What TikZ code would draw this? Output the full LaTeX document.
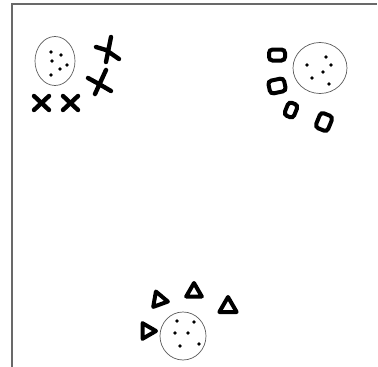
\documentclass[tikz,border=0pt]{standalone}
\usetikzlibrary{shapes.geometric, positioning}
\definecolor{framegray}{RGB}{105,105,105}
\definecolor{ringgray}{RGB}{90,90,90}
\tikzset{
  frameline/.style = {draw=framegray, line width=1.6pt},
  cluster/.style   = {ellipse, draw=ringgray, line width=0.7pt, inner sep=0pt},
  pen/.style       = {line width=4.4pt, line cap=round, line join=round},
  seed/.style      = {circle, fill=black, inner sep=0pt, minimum size=3.9pt},
  blob/.style      = {rectangle, rounded corners=3.5pt, draw, line width=4pt, inner sep=0pt},
  tri/.style       = {regular polygon, regular polygon sides=3, draw, line width=4pt, line join=round, inner sep=0pt, minimum size=18pt},
}
\begin{document}
\begin{tikzpicture}[x=1pt, y=-1pt]
\useasboundingbox (0,0) rectangle (378,367);

% frame (top and left only)
\draw[frameline] (12,367) -- (12,4) -- (377,4);

% ================= cluster centres =================
\node (clusA) [cluster, minimum width=40pt, minimum height=49pt] at (55,61) {};
\node (clusB) [cluster, minimum width=54pt, minimum height=51pt] at (320,68) {};
\node (clusC) [cluster, minimum width=46pt, minimum height=48pt] at (183,336) {};

\foreach \p in {(51,52),(61,55),(52,61),(67,65),(60,69),(51,75)}
  \node [seed] at \p {};
\foreach \p in {(326,57),(307,65),(331,65),(323,72),(312,78),(329,84)}
  \node [seed] at \p {};
\foreach \p in {(177,321),(194,322),(175,333),(188,333),(180,346),(199,344)}
  \node [seed] at \p {};

% ================= crosses =================
\draw[pen] (34,96) -- (49,110) (34,110) -- (49,96);
\draw[pen] (63,96) -- (78,110) (63,110) -- (78,96);
\draw[pen] (106,70) -- (95,94) (88,78) -- (99,84) -- (111,91);
\draw[pen] (111,37) -- (106,62) (96,47) -- (106,50) -- (119,59);

% ================= rounded boxes =================
\node (boxA) [blob, minimum width=16pt, minimum height=11pt] at (277,55) {};
\node (boxB) [blob, minimum width=16pt, minimum height=13pt, rotate=12] at (277,86) {};
\node (boxC) [blob, minimum width=10pt, minimum height=14pt, rotate=-22] at (291,110) {};
\node (boxD) [blob, minimum width=13pt, minimum height=16pt, rotate=-22] at (324,122) {};

% ================= triangles =================
\node (triA) [tri, rotate=20] at (159,300) {};
\node (triB) [tri] at (194,292) {};
\node (triC) [tri, minimum size=20pt] at (228,307) {};
\node (triD) [tri, rotate=-90] at (147,331) {};

\end{tikzpicture}
\end{document}
